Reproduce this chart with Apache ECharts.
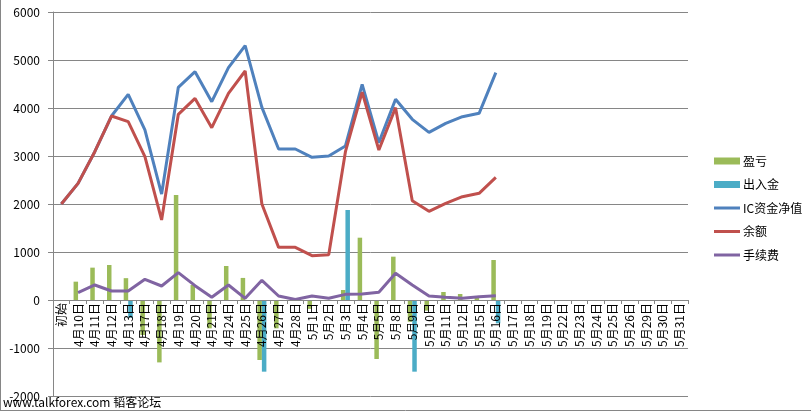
<!DOCTYPE html>
<html>
<head>
<meta charset="utf-8">
<script src="https://cdn.jsdelivr.net/npm/echarts@6/dist/echarts.min.js"></script>
<style>html,body{margin:0;padding:0;background:#fff;}#c{width:811px;height:412px;}</style>
</head>
<body>
<div id="c"></div>
<script>
const categories = ['初始','4月10日','4月11日','4月12日','4月13日','4月17日','4月18日','4月19日','4月20日','4月21日','4月24日','4月25日','4月26日','4月27日','4月28日','5月1日','5月2日','5月3日','5月4日','5月5日','5月8日','5月9日','5月10日','5月11日','5月12日','5月15日','5月16日','5月17日','5月18日','5月19日','5月22日','5月23日','5月24日','5月25日','5月26日','5月29日','5月30日','5月31日'];
const yTicks = [-2000,-1000,0,1000,2000,3000,4000,5000,6000];
const profitLoss = [null,382,674,729,455,-729,-1300,2188,313,-590,708,460,-1250,-590,null,-185,null,208,1298,-1229,903,-452,-222,167,125,65,833];
const depositWithdraw = [null,null,null,null,-370,null,null,null,null,null,null,null,-1493,null,null,null,null,1875,null,null,null,-1493,null,null,null,null,-486];
const icNetValue = [2000,2430,3090,3833,4285,3542,2208,4431,4757,4132,4840,5299,4014,3146,3146,2972,3000,3208,4493,3278,4181,3764,3493,3681,3819,3889,4736];
const balance = [2000,2430,3090,3833,3715,2986,1667,3868,4200,3590,4306,4771,2000,1097,1097,924,944,3090,4330,3125,4007,2069,1847,2014,2153,2222,2555];
const fees = [null,153,313,188,188,431,292,569,299,56,313,35,410,83,10,83,35,118,125,160,556,312,83,56,35,69,90];

const FONT = '"Noto Sans CJK SC", "Noto Sans", sans-serif';
const LINE_ICON = 'path://M0,0L26,0L26,3L0,3Z';
const yMin = yTicks[0], yMax = yTicks[yTicks.length-1];
const gridTop = 12, gridBottom = 16, H = 412;
const plotH = H - gridTop - gridBottom;
const zeroOffset = -plotH * (0 - yMin) / (yMax - yMin);

const chart = echarts.init(document.getElementById('c'), null, {renderer:'canvas'});
chart.setOption({
  animation: false,
  textStyle: {fontFamily: FONT},
  grid: {left: 53, right: 123, top: gridTop, bottom: gridBottom, containLabel: false, outerBoundsMode: 'none'},
  legend: {
    orient: 'vertical', left: 709, top: 149,
    itemWidth: 26, itemHeight: 7, itemGap: 9.5, symbolKeepAspect: true,
    textStyle: {fontSize: 12, color: '#000', fontFamily: FONT, lineHeight: 14, padding: [0,0,0,-2]},
    data: [
      {name: '盈亏', icon: 'rect'},
      {name: '出入金', icon: 'rect'},
      {name: 'IC资金净值', icon: LINE_ICON},
      {name: '余额', icon: LINE_ICON},
      {name: '手续费', icon: LINE_ICON}
    ]
  },
  xAxis: {
    type: 'category', data: categories, boundaryGap: true, position: 'bottom', offset: zeroOffset, z: 10,
    axisLine: {onZero: false, lineStyle: {color: '#868686', width: 1}},
    axisTick: {show: true, length: 4, alignWithLabel: false, lineStyle: {color: '#868686'}},
    axisLabel: {interval: 0, rotate: 90, fontSize: 12, color: '#000', margin: 3, fontFamily: FONT, hideOverlap: false},
    splitLine: {show: false}
  },
  yAxis: {
    type: 'value', min: yMin, max: yMax, interval: 1000,
    axisLine: {show: true, lineStyle: {color: '#868686', width: 1}},
    axisTick: {show: true, length: 5, lineStyle: {color: '#868686'}},
    axisLabel: {fontSize: 12, color: '#000', margin: 13, fontFamily: FONT, formatter: v => String(v)},
    splitLine: {show: true, lineStyle: {color: '#868686', width: 1}}
  },
  series: [
    {name: '盈亏', type: 'bar', data: profitLoss, barWidth: 4.5, barGap: '0%', itemStyle: {color: '#9BBB59'}},
    {name: '出入金', type: 'bar', data: depositWithdraw, barWidth: 4.5, barGap: '0%', itemStyle: {color: '#4BACC6'}},
    {name: 'IC资金净值', type: 'line', data: icNetValue, symbol: 'none', lineStyle: {color: '#4F81BD', width: 3}, itemStyle: {color: '#4F81BD'}},
    {name: '余额', type: 'line', data: balance, symbol: 'none', lineStyle: {color: '#C0504D', width: 3}, itemStyle: {color: '#C0504D'}},
    {name: '手续费', type: 'line', data: fees, symbol: 'none', lineStyle: {color: '#8064A2', width: 3}, itemStyle: {color: '#8064A2'}}
  ],
  graphic: [
    {type: 'line', shape: {x1: 0.5, y1: 0, x2: 0.5, y2: 410.5}, style: {stroke: '#868686', lineWidth: 1}, silent: true},
    {type: 'line', shape: {x1: 0, y1: 410.5, x2: 811, y2: 410.5}, style: {stroke: '#868686', lineWidth: 1}, silent: true},
    {type: 'text', left: 3, top: 396, z: 100, style: {text: 'www.talkforex.com 韬客论坛', font: '12px ' + FONT, fill: '#000'}}
  ]
});
</script>
</body>
</html>
